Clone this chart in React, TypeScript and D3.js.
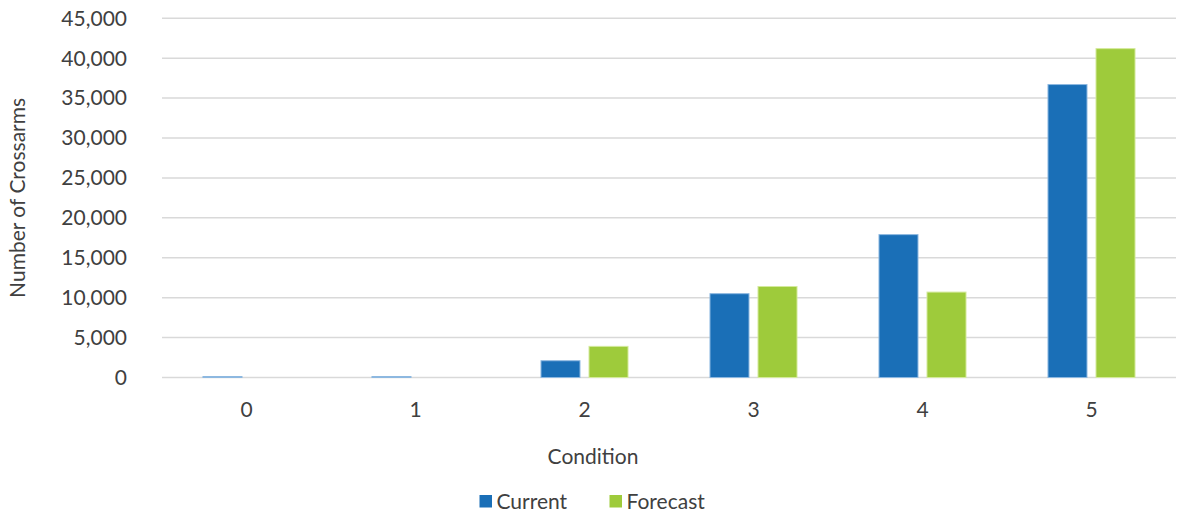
import React from "react";
import * as d3 from "d3";

const categories = ["0", "1", "2", "3", "4", "5"];
const seriesNames = ["Current", "Forecast"];
const currentValues = [120, 120, 2100, 10500, 17900, 36700];
const forecastValues = [0, 0, 3900, 11400, 10700, 41200];
const yTicks = [0, 5000, 10000, 15000, 20000, 25000, 30000, 35000, 40000, 45000];
const seriesColors = ["#1a6fb7", "#9ecb3b"];
const seriesStrokes = ["#8db8e0", "#d4ea9c"];

const W = 1182;
const H = 514;
const margin = { left: 162, right: 6, top: 18.3, bottom: 136.5 };
const FONT = "Lato, 'Open Sans', sans-serif";
const TEXT = "#404040";
const FS = 21;

export default function App() {
  const x0 = d3
    .scaleBand<string>()
    .domain(categories)
    .range([margin.left, W - margin.right])
    .paddingInner(0.485)
    .paddingOuter(0.2425);
  const x1 = d3
    .scaleBand<string>()
    .domain(seriesNames)
    .range([0, x0.bandwidth()])
    .paddingInner(0.1875);
  const y = d3
    .scaleLinear()
    .domain([0, 45000])
    .range([H - margin.bottom, margin.top]);
  const fmt = d3.format(",");
  const series = [currentValues, forecastValues];

  return (
    <svg
      width={W}
      height={H}
      style={{ position: "absolute", left: 0, top: 0, background: "#fff" }}
      fontFamily={FONT}
    >
      {yTicks.map((t) => (
        <g key={t}>
          <line
            x1={margin.left}
            x2={W - margin.right}
            y1={y(t)}
            y2={y(t)}
            stroke="#d9d9d9"
            strokeWidth={1.5}
          />
          <text
            x={127}
            y={y(t)}
            dy="0.35em"
            textAnchor="end"
            fontSize={FS}
            fill={TEXT}
          >
            {fmt(t)}
          </text>
        </g>
      ))}
      {categories.map((c, i) => (
        <g key={c}>
          {series.map((vals, s) => {
            const v = vals[i];
            if (v <= 0) return null;
            const bx = (x0(c) ?? 0) + (x1(seriesNames[s]) ?? 0);
            return (
              <rect
                key={s}
                x={bx}
                y={y(v)}
                width={x1.bandwidth()}
                height={y(0) - y(v)}
                fill={seriesColors[s]}
                stroke={seriesStrokes[s]}
                strokeWidth={1}
              />
            );
          })}
          <text
            x={(x0(c) ?? 0) + x0.bandwidth() / 2}
            y={410}
            dy="0.35em"
            textAnchor="middle"
            fontSize={FS}
            fill={TEXT}
          >
            {c}
          </text>
        </g>
      ))}
      <text
        transform={`translate(18,${(y(0) + y(45000)) / 2}) rotate(-90)`}
        textAnchor="middle"
        dy="0.35em"
        fontSize={FS}
        fill={TEXT}
      >
        Number of Crossarms
      </text>
      <text x={593} y={457} dy="0.35em" textAnchor="middle" fontSize={FS} fill={TEXT}>
        Condition
      </text>
      {seriesNames.map((n, s) => {
        const lx = s === 0 ? 479.5 : 609.5;
        return (
          <g key={n}>
            <rect x={lx} y={495} width={12.5} height={12.5} fill={seriesColors[s]} />
            <text x={lx + 17} y={501.5} dy="0.35em" fontSize={FS} fill={TEXT}>
              {n}
            </text>
          </g>
        );
      })}
    </svg>
  );
}
